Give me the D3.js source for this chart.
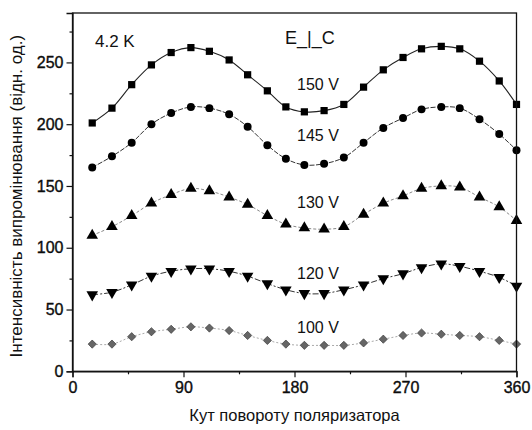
<!DOCTYPE html>
<html><head><meta charset="utf-8">
<script src="https://cdn.jsdelivr.net/npm/d3@7"></script>
<style>body{margin:0;background:#fff}svg{display:block}text{font-family:"Liberation Sans",Arial,sans-serif;fill:#111}</style>
</head><body><svg id="c" width="532" height="430"></svg>
<script>
const angles = [16,32,48,64,80,96,111,127,142,158,173,188,204,220,236,252,268,283,299,314,330,346,360];
const v150 = [201,213,232,248,258,262,259,252,240,227,214,210,211,216,230,244,254,261,263,261,251,235,216];
const v145 = [165,174,185,200,209,214,213,208,198,183,172,167,168,173,185,197,205,212,214,213,204,192,179];
const v130 = [110,117,126,136,143,148,146,141,135,126,119,116,115,117,127,136,142,148,150,149,141,133,122];
const v120 = [62,64,70,77,81,83,83,81,77,71,66,63,63,66,70,75,79,84,87,85,81,76,69];
const v100 = [22,22,28,32,34,36,35,33,29,25,22,21,21,21,23,26,29,31,30,29,28,25,22];
const seriesLabels = ["150 V","145 V","130 V","120 V","100 V"];
const xTicks = [0,90,180,270,360];
const yTicks = [0,50,100,150,200,250];

const svg = d3.select("#c");
const L=72.5, R=516.5, T=13, B=371.3;
const x = d3.scaleLinear().domain([0,360]).range([L,R]);
const y = d3.scaleLinear().domain([0,290]).range([B,T]);

const series = [
 {vals:v150, sym:d3.symbolSquare, size:52, rot:0, fill:"#000", stroke:"#222", dash:null, lw:1.1, lab:seriesLabels[0]},
 {vals:v145, sym:d3.symbolCircle, size:50, rot:0, fill:"#000", stroke:"#333", dash:"5,1.5", lw:1, lab:seriesLabels[1]},
 {vals:v130, sym:d3.symbolTriangle, size:58, rot:0, fill:"#000", stroke:"#888", dash:"3,2", lw:1, lab:seriesLabels[2]},
 {vals:v120, sym:d3.symbolTriangle, size:58, rot:180, fill:"#000", stroke:"#333", dash:"6,2,2,2", lw:1, lab:seriesLabels[3]},
 {vals:v100, sym:d3.symbolSquare, size:34, rot:45, fill:"#666", stroke:"#aaa", dash:"2,2", lw:1, lab:seriesLabels[4]}
];

const line = d3.line().x((d,i)=>x(angles[i])).y(d=>y(d)).curve(d3.curveCatmullRom);
const g = svg.append("g");
series.forEach(s=>{
  g.append("path").attr("d",line(s.vals)).attr("fill","none").attr("stroke",s.stroke)
   .attr("stroke-width",s.lw).attr("stroke-dasharray",s.dash);
  g.selectAll(null).data(s.vals).enter().append("path")
   .attr("d",d3.symbol().type(s.sym).size(s.size))
   .attr("transform",(d,i)=>`translate(${x(angles[i])},${y(d)}) rotate(${s.rot})`)
   .attr("fill",s.fill).attr("stroke",s.rot===45?"#333":"none").attr("stroke-width",0.6);
});

// frame
svg.append("rect").attr("x",L).attr("y",T).attr("width",R-L).attr("height",B-T)
  .attr("fill","none").attr("stroke","#111").attr("stroke-width",1.3);

// axes
const styleLabels = sel => sel.attr("font-size",16).attr("fill","#000").attr("stroke","#000").attr("stroke-width",0.35)
  .style("font-family","Liberation Sans, Arial");
const xAxis = d3.axisBottom(x).tickValues(xTicks).tickSize(6).tickPadding(4);
const gx = svg.append("g").attr("transform",`translate(0,${B})`).call(xAxis);
gx.selectAll("line").attr("stroke","#111").attr("stroke-width",1.2);
gx.select(".domain").attr("stroke","#111").attr("stroke-width",1.3);
styleLabels(gx.selectAll("text"));
const gxm = svg.append("g").attr("transform",`translate(0,${B})`)
  .call(d3.axisBottom(x).tickValues(d3.range(45,360,90)).tickSize(3).tickFormat(""));
gxm.select(".domain").remove(); gxm.selectAll("line").attr("stroke","#111").attr("stroke-width",1.2);

const yAxis = d3.axisLeft(y).tickValues(yTicks).tickSize(6).tickPadding(3);
const gy = svg.append("g").attr("transform",`translate(${L},0)`).call(yAxis);
gy.selectAll("line").attr("stroke","#111").attr("stroke-width",1.2);
gy.select(".domain").attr("stroke","#111").attr("stroke-width",1.3);
styleLabels(gy.selectAll("text"));
const gym = svg.append("g").attr("transform",`translate(${L},0)`)
  .call(d3.axisLeft(y).tickValues(d3.range(25,290,50)).tickSize(3).tickFormat(""));
gym.select(".domain").remove(); gym.selectAll("line").attr("stroke","#111").attr("stroke-width",1.2);

// titles
svg.append("text").attr("x",(L+R)/2).attr("y",421).attr("text-anchor","middle")
  .attr("font-size",16.5).text("Кут повороту поляризатора");
svg.append("text").attr("transform",`translate(22,${(T+B)/2+4}) rotate(-90)`).attr("text-anchor","middle")
  .attr("font-size",17).text("Інтенсивність випромінювання (відн. од.)");

// annotations
svg.append("text").attr("x",95).attr("y",47).attr("font-size",17).text("4.2 K");
svg.append("text").attr("x",285).attr("y",44).attr("font-size",18).text("E_|_C");
const labY = [90,141,208,279,333];
series.forEach((s,i)=>{
  svg.append("text").attr("x",297).attr("y",labY[i]).attr("font-size",16).text(s.lab);
});
</script></body></html>
